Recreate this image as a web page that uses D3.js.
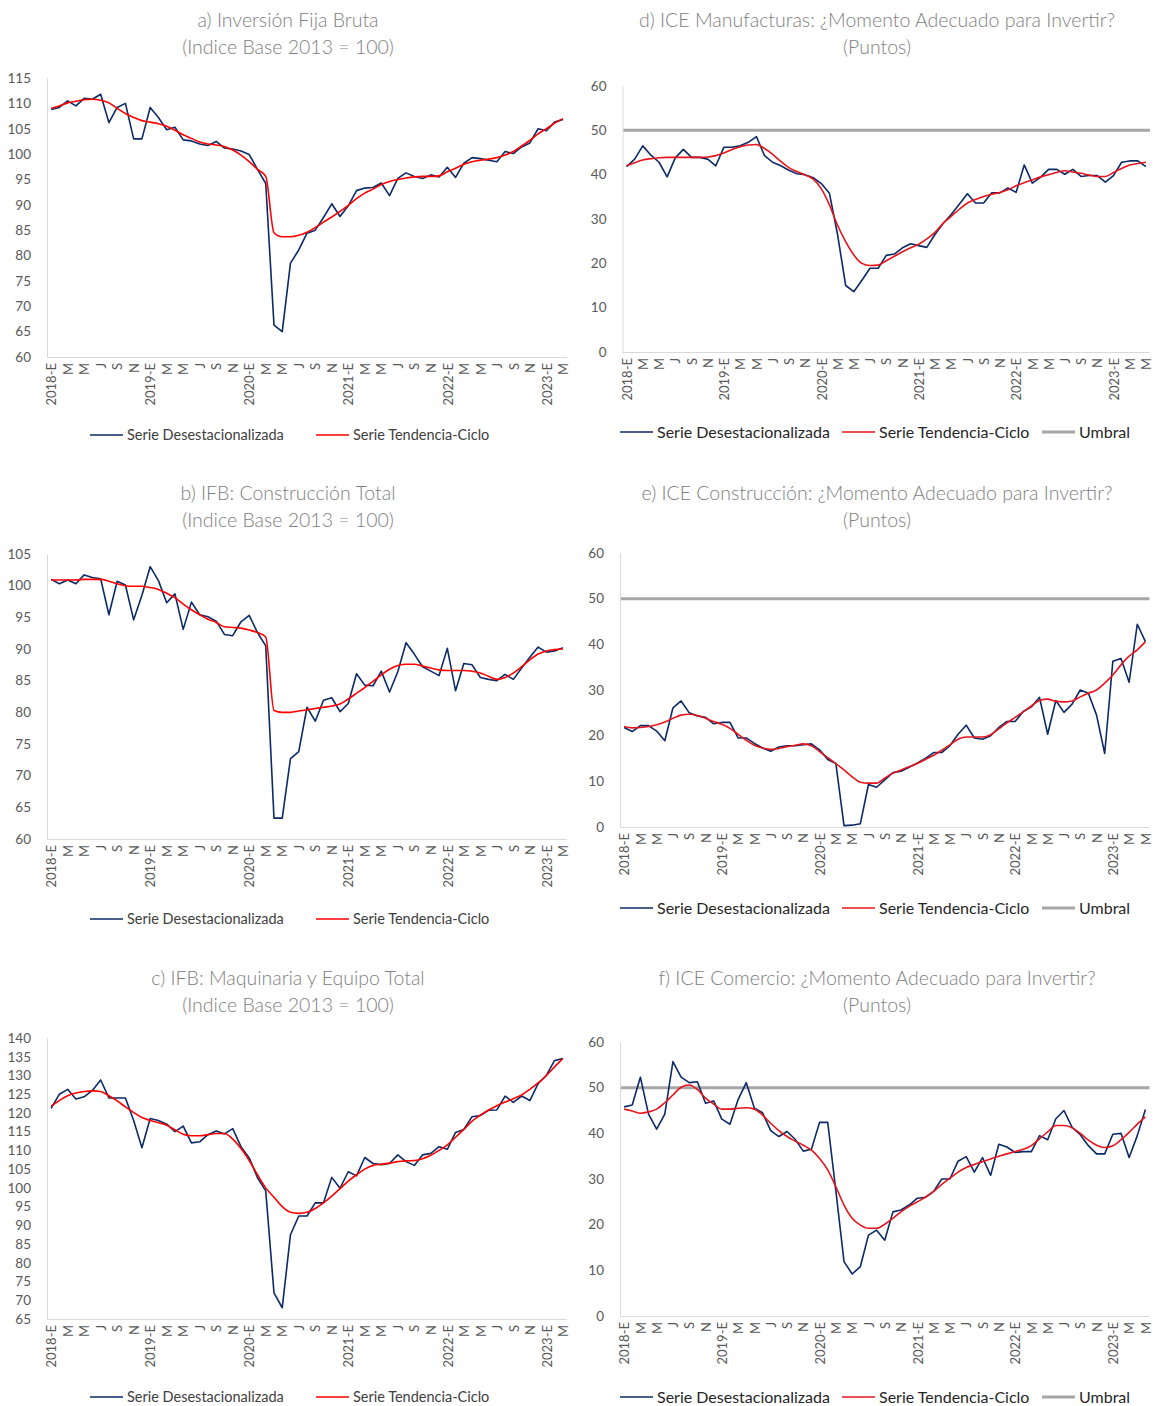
<!DOCTYPE html>
<html>
<head>
<meta charset="utf-8" />
<title>IFB e ICE</title>
<script src="https://cdn.jsdelivr.net/npm/d3@7"></script>
<style>
  body { margin: 0; background: #fff; }
  svg text { font-family: Lato, "Open Sans", sans-serif; }
</style>
</head>
<body>
<script>

// categorias (mensual, 2018-E a 2023-M)
var fechasICE = [
  "2018-E","F","M","A","M","J","J","A","S","O","N","D",
  "2019-E","F","M","A","M","J","J","A","S","O","N","D",
  "2020-E","F","M","A","M","J","J","A","S","O","N","D",
  "2021-E","F","M","A","M","J","J","A","S","O","N","D",
  "2022-E","F","M","A","M","J","J","A","S","O","N","D",
  "2023-E","F","M","A","M"
];
var fechasIFB = fechasICE.slice(0, 63);   // IFB llega a marzo 2023

// a) Inversion Fija Bruta
var ifbDes = [108.8,109.2,110.5,109.5,111.0,110.8,111.8,106.2,109.2,110.0,
  103.0,103.0,109.2,107.2,104.8,105.3,102.8,102.6,102.0,101.7,
  102.5,101.2,101.0,100.6,99.9,97.0,94.2,66.3,65.0,78.5,
  81.1,84.4,85.0,87.5,90.2,87.7,89.8,92.8,93.3,93.4,
  94.3,91.8,95.2,96.3,95.6,95.2,95.9,95.5,97.4,95.4,
  98.2,99.3,99.1,98.8,98.5,100.5,100.1,101.4,102.2,105.0,
  104.6,106.3,106.8];
var ifbTend = [109.0,109.5,110.1,110.4,110.7,110.8,110.6,110.1,109.0,108.0,
  107.2,106.6,106.3,106.0,105.5,104.7,103.8,103.1,102.4,102.0,
  101.8,101.5,100.8,99.8,98.5,97.0,95.6,84.5,83.7,83.7,
  84.0,84.6,85.5,86.6,87.6,88.7,89.9,91.2,92.3,93.1,
  94.0,94.6,95.0,95.3,95.5,95.6,95.6,95.7,96.5,97.2,
  98.0,98.5,98.8,99.0,99.3,99.8,100.5,101.6,102.7,104.0,
  105.0,106.1,107.0];

// b) IFB: Construccion Total
var constDes = [101.0,100.3,100.9,100.3,101.7,101.3,101.1,95.4,100.7,100.1,
  94.6,98.5,103.0,100.8,97.3,98.7,93.1,97.4,95.4,95.1,
  94.4,92.3,92.1,94.3,95.3,92.6,90.5,63.3,63.3,72.7,
  73.8,80.8,78.6,81.9,82.3,80.1,81.4,86.1,84.3,84.2,
  86.5,83.2,86.4,91.0,89.2,87.2,86.5,85.8,90.1,83.4,
  87.7,87.5,85.5,85.2,85.0,86.0,85.2,87.0,88.7,90.3,
  89.5,89.7,90.2];
var constTend = [100.9,100.9,100.9,100.9,101.0,101.0,101.0,100.7,100.3,100.0,
  99.9,99.9,99.7,99.4,98.8,98.1,97.1,96.2,95.4,94.7,
  94.2,93.5,93.4,93.3,93.0,92.6,91.9,80.3,80.0,80.0,
  80.2,80.4,80.6,80.8,81.0,81.3,82.1,83.0,83.9,84.9,
  85.9,86.8,87.4,87.6,87.6,87.3,87.0,86.7,86.6,86.6,
  86.6,86.5,86.2,85.7,85.2,85.5,86.2,87.2,88.3,89.2,
  89.7,89.9,90.0];

// c) IFB: Maquinaria y Equipo Total
var maqDes = [121.2,125.0,126.3,123.7,124.3,126.0,128.8,124.0,124.0,124.0,
  118.0,110.7,118.5,118.0,117.0,115.0,116.5,112.0,112.3,114.2,
  115.2,114.4,115.8,111.0,108.0,102.7,99.2,72.0,68.0,87.5,
  92.5,92.5,96.0,96.0,102.8,99.9,104.3,103.2,108.1,106.5,
  106.2,106.5,108.8,107.0,106.0,108.8,109.2,111.0,110.3,114.8,
  115.6,119.0,119.3,120.7,120.8,124.5,122.8,124.5,123.3,127.8,
  130.0,134.0,134.5];
var maqTend = [121.8,123.3,124.6,125.3,125.7,125.9,125.7,124.6,123.2,121.6,
  120.1,118.8,118.0,117.4,116.7,115.5,114.3,113.9,113.9,114.2,
  114.5,114.5,113.0,110.5,107.3,103.5,100.0,97.5,95.0,93.5,
  93.2,93.5,94.5,96.0,97.8,99.8,101.8,103.5,105.0,106.0,
  106.3,106.6,107.0,107.2,107.3,107.8,108.7,110.0,111.5,113.5,
  115.6,117.8,119.4,120.8,121.9,122.9,123.8,124.8,126.3,128.0,
  130.0,132.3,134.5];

// d) ICE Manufacturas
var iceManDes = [41.8,43.5,46.5,44.4,42.8,39.5,43.8,45.7,43.9,43.9,
  43.5,42.0,46.2,46.2,46.5,47.3,48.6,44.3,42.8,42.0,
  41.0,40.2,40.0,39.3,38.0,35.8,26.5,15.0,13.6,16.2,
  18.9,18.9,21.8,22.1,23.5,24.4,24.0,23.6,26.5,29.0,
  31.0,33.3,35.7,33.6,33.6,35.9,35.9,37.0,36.0,42.2,
  38.1,39.4,41.2,41.2,40.1,41.2,39.6,39.8,39.8,38.3,
  39.8,42.8,43.1,43.1,41.8];
var iceManTend = [42.0,42.7,43.3,43.6,43.8,43.9,43.9,43.9,43.9,43.9,
  44.0,44.3,44.9,45.7,46.3,46.7,46.8,45.9,44.6,43.0,
  41.6,40.7,39.9,39.0,36.8,33.2,28.6,24.9,21.9,20.0,
  19.5,19.6,20.6,21.6,22.6,23.5,24.3,25.5,27.0,29.0,
  30.6,32.2,33.6,34.4,35.1,35.6,36.0,36.6,37.5,38.2,
  38.8,39.5,40.0,40.5,40.9,40.6,40.3,39.9,39.6,39.6,
  40.5,41.4,42.2,42.5,42.8];

// e) ICE Construccion
var iceConDes = [21.8,20.9,22.2,22.2,21.0,18.9,26.1,27.6,25.0,24.3,
  24.0,22.6,22.9,22.9,19.5,19.5,18.3,17.3,16.6,17.5,
  17.8,17.8,18.0,18.2,16.9,14.8,13.9,0.3,0.4,0.7,
  9.3,8.7,10.3,11.9,12.2,13.1,14.0,15.0,16.3,16.3,
  17.8,20.3,22.3,19.5,19.2,20.0,21.8,23.1,23.1,25.3,
  26.3,28.4,20.3,27.7,25.1,26.9,30.0,29.3,24.5,16.1,
  36.3,36.9,31.7,44.4,40.6];
var iceConTend = [22.0,21.7,21.8,22.0,22.4,23.0,23.8,24.5,24.7,24.4,
  23.8,23.1,22.5,21.6,20.3,19.0,17.9,17.3,17.0,17.2,
  17.6,17.9,18.2,17.8,16.5,15.2,13.9,12.5,11.0,9.8,
  9.6,9.6,10.7,11.8,12.5,13.2,13.9,14.8,15.7,16.8,
  18.0,19.2,19.7,19.7,19.7,20.2,21.5,22.8,24.0,25.2,
  26.5,27.7,28.0,27.5,27.4,27.6,28.5,29.3,30.0,31.5,
  33.3,35.5,37.4,38.8,40.6];

// f) ICE Comercio
var iceComDes = [45.8,46.2,52.3,44.2,40.9,44.2,55.7,52.3,51.1,51.3,
  46.6,47.1,43.1,42.0,47.4,51.1,45.5,44.5,40.6,39.3,
  40.4,38.7,36.1,36.5,42.4,42.4,27.4,11.9,9.2,10.8,
  17.7,18.8,16.6,22.8,23.2,24.3,25.8,26.0,27.3,30.0,
  30.0,33.9,34.9,31.5,34.7,30.8,37.6,37.0,35.8,36.0,
  36.0,39.5,38.6,43.2,45.0,41.3,39.7,37.3,35.5,35.5,
  39.8,40.0,34.7,39.5,45.2];
var iceComTend = [45.3,44.9,44.4,44.7,45.3,46.7,48.4,50.1,50.6,49.6,
  47.7,46.4,45.3,45.3,45.5,45.6,45.3,44.0,42.2,40.6,
  39.3,38.3,37.4,36.3,34.5,32.0,28.3,24.3,21.4,19.9,
  19.2,19.2,20.1,21.4,22.8,24.0,25.0,26.0,27.3,28.8,
  30.2,31.5,32.5,33.2,33.8,34.4,35.0,35.5,36.0,36.5,
  37.3,38.8,40.3,41.7,41.7,41.2,40.0,38.5,37.4,36.9,
  37.3,38.6,40.2,42.0,43.6];

var umbral = 50;

// ticks del eje Y
var ticksIFB = [60,65,70,75,80,85,90,95,100,105,110,115];
var ticksConst = [60,65,70,75,80,85,90,95,100,105];
var ticksMaq = [65,70,75,80,85,90,95,100,105,110,115,120,125,130,135,140];
var ticksICE = [0,10,20,30,40,50,60];

var titulos = [
  ["a) Inversión Fija Bruta", "(Indice Base 2013 = 100)"],
  ["b) IFB: Construcción Total", "(Indice Base 2013 = 100)"],
  ["c) IFB: Maquinaria y Equipo Total", "(Indice Base 2013 = 100)"],
  ["d) ICE Manufacturas: ¿Momento Adecuado para Invertir?", "(Puntos)"],
  ["e) ICE Construcción: ¿Momento Adecuado para Invertir?", "(Puntos)"],
  ["f) ICE Comercio: ¿Momento Adecuado para Invertir?", "(Puntos)"]
];
var nombres = ["Serie Desestacionalizada", "Serie Tendencia-Ciclo", "Umbral"];

var azul = '#0b2a66';
var gris = '#a6a6a6';

var svg = d3.select('body').append('svg').attr('width', 1154).attr('height', 1406);

// posiciones de cada panel
var paneles = [
  { t: titulos[0], des: ifbDes, tend: ifbTend, fechas: fechasIFB, ticks: ticksIFB,
    x0: 47, x1: 567, yTop: 78, yBot: 357, cx: 288, ty: 20, ly: 435, rojo: '#ff0000', umbral: false },
  { t: titulos[1], des: constDes, tend: constTend, fechas: fechasIFB, ticks: ticksConst,
    x0: 47, x1: 567, yTop: 554, yBot: 839, cx: 288, ty: 493, ly: 919, rojo: '#ff0000', umbral: false },
  { t: titulos[2], des: maqDes, tend: maqTend, fechas: fechasIFB, ticks: ticksMaq,
    x0: 47, x1: 567, yTop: 1038, yBot: 1319, cx: 288, ty: 978, ly: 1397, rojo: '#ff0000', umbral: false },
  { t: titulos[3], des: iceManDes, tend: iceManTend, fechas: fechasICE, ticks: ticksICE,
    x0: 622.5, x1: 1150, yTop: 86, yBot: 352, cx: 877, ty: 20, ly: 432, rojo: '#e8141c', umbral: true },
  { t: titulos[4], des: iceConDes, tend: iceConTend, fechas: fechasICE, ticks: ticksICE,
    x0: 620, x1: 1149.5, yTop: 553, yBot: 827, cx: 877, ty: 493, ly: 908, rojo: '#e8141c', umbral: true },
  { t: titulos[5], des: iceComDes, tend: iceComTend, fechas: fechasICE, ticks: ticksICE,
    x0: 620, x1: 1149.5, yTop: 1042, yBot: 1316, cx: 877, ty: 978, ly: 1397, rojo: '#e8141c', umbral: true }
];

paneles.forEach(dibujar);

function dibujar(p) {
  var g = svg.append('g');
  var idx = d3.range(p.des.length);

  var x = d3.scalePoint().domain(idx).range([p.x0, p.x1]).padding(0.5);
  var y = d3.scaleLinear()
    .domain([p.ticks[0], p.ticks[p.ticks.length - 1]])
    .range([p.yBot, p.yTop]);

  // titulo
  g.selectAll('text.tit').data(p.t).enter().append('text')
    .attr('class', 'tit')
    .attr('x', p.cx)
    .attr('y', function (d, i) { return p.ty + i * 27; })
    .attr('dy', '0.35em')
    .attr('text-anchor', 'middle')
    .style('font-size', '19.5px')
    .style('font-weight', 300)
    .style('fill', '#808080')
    .text(function (d) { return d; });

  // eje Y
  var yAxis = d3.axisLeft(y).tickValues(p.ticks).tickSize(0).tickPadding(16);
  var gy = g.append('g').attr('transform', 'translate(' + p.x0 + ',0)').call(yAxis);
  gy.select('.domain').attr('stroke', '#d9d9d9');
  gy.selectAll('text').style('font-size', '13.5px').style('fill', '#595959')
    .style('font-family', 'Lato, sans-serif');

  // eje X
  var xAxis = d3.axisBottom(x)
    .tickValues(idx.filter(function (i) { return i % 2 === 0; }))
    .tickSize(0).tickSizeOuter(0)
    .tickFormat(function (i) { return p.fechas[i]; });
  var gx = g.append('g').attr('transform', 'translate(0,' + p.yBot + ')').call(xAxis);
  gx.select('.domain').attr('d', 'M' + p.x0 + ',0.5H' + p.x1).attr('stroke', '#d9d9d9');
  gx.selectAll('text')
    .attr('transform', 'rotate(-90)')
    .attr('x', -6).attr('y', 0).attr('dy', '0.36em')
    .style('text-anchor', 'end')
    .style('font-size', '13px').style('fill', '#595959')
    .style('font-family', 'Lato, sans-serif');

  // umbral
  if (p.umbral) {
    g.append('line')
      .attr('x1', p.x0 + 1).attr('x2', p.x1)
      .attr('y1', y(umbral)).attr('y2', y(umbral))
      .attr('stroke', gris).attr('stroke-width', 3);
  }

  var linea = d3.line()
    .x(function (d, i) { return x(i); })
    .y(function (d) { return y(d); });

  g.append('path').datum(p.des)
    .attr('d', linea)
    .attr('fill', 'none').attr('stroke', azul).attr('stroke-width', 1.6)
    .attr('stroke-linejoin', 'round');

  g.append('path').datum(p.tend)
    .attr('d', linea.curve(d3.curveMonotoneX))
    .attr('fill', 'none').attr('stroke', p.rojo).attr('stroke-width', 1.6);

  // leyenda
  var ley;
  if (p.umbral) {
    ley = [
      { n: nombres[0], c: azul, w: 1.6, x: 620 },
      { n: nombres[1], c: p.rojo, w: 1.6, x: 842 },
      { n: nombres[2], c: gris, w: 3, x: 1042 }
    ];
  } else {
    ley = [
      { n: nombres[0], c: azul, w: 1.6, x: 90 },
      { n: nombres[1], c: p.rojo, w: 1.6, x: 316 }
    ];
  }
  var gl = g.selectAll('g.ley').data(ley).enter().append('g')
    .attr('class', 'ley')
    .attr('transform', function (d) { return 'translate(' + d.x + ',' + p.ly + ')'; });
  gl.append('line').attr('x1', 0).attr('x2', 33).attr('y1', 0).attr('y2', 0)
    .attr('stroke', function (d) { return d.c; })
    .attr('stroke-width', function (d) { return d.w; });
  gl.append('text').attr('x', 37).attr('dy', '0.36em')
    .style('font-size', p.umbral ? '16px' : '14.5px')
    .style('fill', p.umbral ? '#262626' : '#404040')
    .text(function (d) { return d.n; });
}

</script>
</body>
</html>
